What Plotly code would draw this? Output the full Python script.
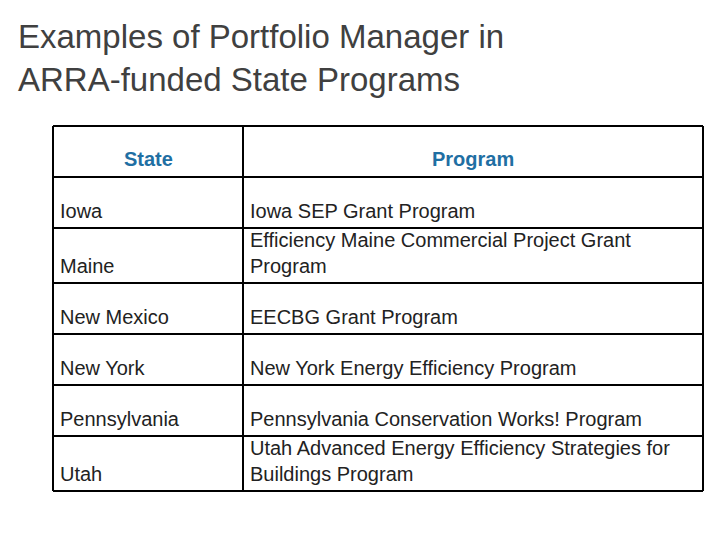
import plotly.graph_objects as go

title = "Examples of Portfolio Manager in<br>ARRA-funded State Programs"
headers = ["State", "Program"]
states = ["Iowa", "Maine", "New Mexico", "New York", "Pennsylvania", "Utah"]
programs = [
    "Iowa SEP Grant Program",
    "Efficiency Maine Commercial Project Grant<br>Program",
    "EECBG Grant Program",
    "New York Energy Efficiency Program",
    "Pennsylvania Conservation Works! Program",
    "Utah Advanced Energy Efficiency Strategies for<br>Buildings Program",
]

# table geometry in page pixels (page renders with ~8px offset)
OFF = 8
col_edges = [53 - OFF, 243 - OFF, 703 - OFF]
row_edges = [y - OFF for y in [126, 177, 228, 283, 334, 385, 436, 491]]

fig = go.Figure()
shapes = []
for x in col_edges:
    shapes.append(dict(type="line", x0=x, x1=x, y0=row_edges[0], y1=row_edges[-1],
                       line=dict(color="black", width=2)))
for y in row_edges:
    shapes.append(dict(type="line", x0=col_edges[0], x1=col_edges[-1], y0=y, y1=y,
                       line=dict(color="black", width=2)))

ann = [dict(x=18 - 10, y=8, text=title, showarrow=False, xanchor="left", yanchor="top",
            align="left", font=dict(size=33, color="#404040", family="Liberation Sans"))]
for i, h in enumerate(headers):
    ann.append(dict(x=(col_edges[i] + col_edges[i + 1]) / 2, y=row_edges[1] - 5, text=f"<b>{h}</b>",
                    showarrow=False, xanchor="center", yanchor="bottom",
                    font=dict(size=20, color="#1f6fa3", family="Liberation Sans")))
for r, (s, p) in enumerate(zip(states, programs)):
    yb = row_edges[r + 2] - 4
    for i, t in enumerate([s, p]):
        ann.append(dict(x=col_edges[i] + 5, y=yb, text=t, showarrow=False, xanchor="left",
                        yanchor="bottom", align="left",
                        font=dict(size=20, color="#222222", family="Liberation Sans")))

fig.update_layout(
    width=720, height=540, margin=dict(l=0, r=0, t=0, b=0),
    paper_bgcolor="white", plot_bgcolor="white",
    xaxis=dict(range=[0, 720], visible=False, fixedrange=True),
    yaxis=dict(range=[540, 0], visible=False, fixedrange=True),
    shapes=shapes, annotations=ann, showlegend=False,
)
fig.write_html("out.html")
